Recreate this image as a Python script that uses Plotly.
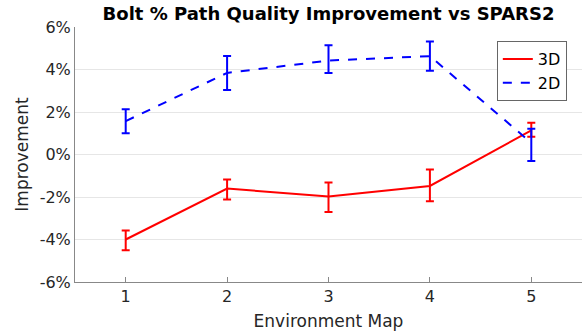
import plotly.graph_objects as go

maps = [1, 2, 3, 4, 5]
d3_mean = [-4.0, -1.6, -1.98, -1.48, 1.13]
d3_plus = [0.42, 0.42, 0.66, 0.77, 0.36]
d3_minus = [0.5, 0.52, 0.72, 0.72, 0.3]
d2_mean = [1.57, 3.84, 4.42, 4.63, 0.55]
d2_plus = [0.56, 0.79, 0.72, 0.69, 0.66]
d2_minus = [0.57, 0.81, 0.58, 0.69, 0.85]
ytick_vals = [-6, -4, -2, 0, 2, 4, 6]
ytick_text = ["-6%", "-4%", "-2%", "0%", "2%", "4%", "6%"]

fig = go.Figure()
fig.add_trace(go.Scatter(
    x=maps, y=d3_mean, mode="lines", name="3D",
    line=dict(color="#ff0000", width=2),
    error_y=dict(type="data", symmetric=False, array=d3_plus, arrayminus=d3_minus,
                 color="#ff0000", thickness=2, width=4),
))
fig.add_trace(go.Scatter(
    x=maps, y=d2_mean, mode="lines", name="2D",
    line=dict(color="#0000ff", width=2, dash="dash"),
    error_y=dict(type="data", symmetric=False, array=d2_plus, arrayminus=d2_minus,
                 color="#0000ff", thickness=2, width=4),
))

font = "DejaVu Sans"
fig.update_layout(
    width=584, height=334,
    margin=dict(l=75, r=2, t=27, b=52, autoexpand=False),
    paper_bgcolor="white", plot_bgcolor="white",
    font=dict(family=font, color="#262626", size=15),
    title=dict(text="<b>Bolt % Path Quality Improvement vs SPARS2</b>",
               xref="paper", x=0.5, xanchor="center", y=0.978, yanchor="top",
               font=dict(size=18, color="black")),
    showlegend=True,
    legend=dict(x=0.832, y=0.945, xanchor="left", yanchor="top",
                bgcolor="white", bordercolor="#666", borderwidth=1,
                font=dict(size=16, color="black"), itemwidth=30,
                tracegroupgap=0),
)
fig.update_xaxes(
    range=[0.5, 5.5], tickvals=maps, ticks="inside", ticklen=5,
    tickcolor="#888", showline=True, linecolor="#888", linewidth=1,
    showgrid=False, zeroline=False, automargin=False,
    title=dict(text="Environment Map", font=dict(size=17), standoff=9),
    tickfont=dict(size=16),
)
fig.update_yaxes(
    range=[-6, 6], tickvals=ytick_vals, ticktext=ytick_text,
    ticks="", showline=True, linecolor="#888", linewidth=1,
    showgrid=True, gridcolor="#e6e6e6", zeroline=False, automargin=False,
    title=dict(text="Improvement", font=dict(size=17), standoff=6),
    tickfont=dict(size=16),
)
fig.write_html("out.html", config={"displayModeBar": False},
               post_script="document.body.style.margin='0';document.body.style.overflow='hidden';")
